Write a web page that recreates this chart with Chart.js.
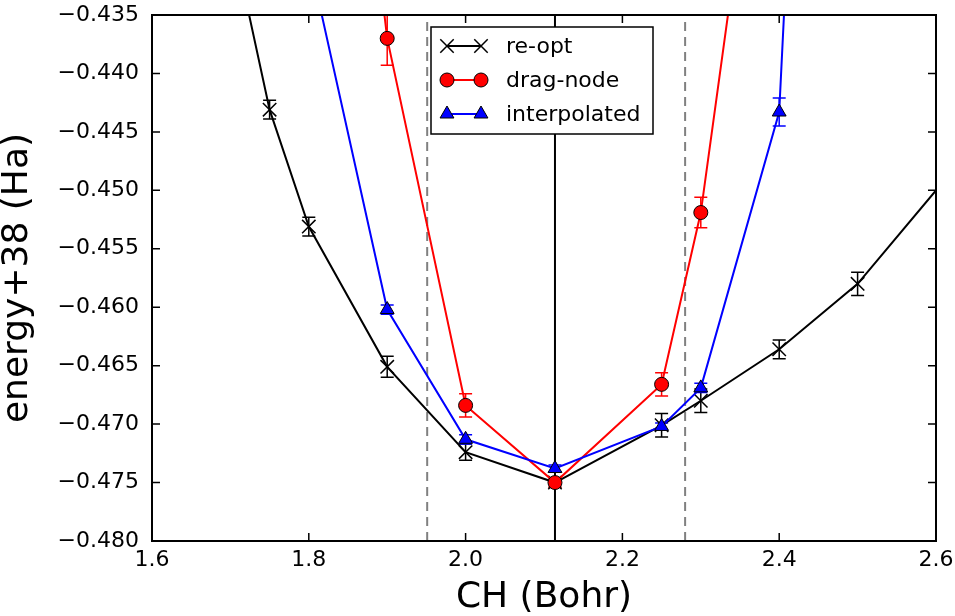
<!DOCTYPE html>
<html>
<head>
<meta charset="utf-8">
<script src="https://cdn.jsdelivr.net/npm/chart.js@4/dist/chart.umd.min.js"></script>
<style>
  html, body { margin: 0; padding: 0; background: #fff; }
  canvas { display: block; }
</style>
</head>
<body>
<canvas id="c" width="955" height="616"></canvas>
<script>
// values
const reoptX = [1.7, 1.75, 1.8, 1.9, 2.0, 2.114, 2.25, 2.3, 2.4, 2.5, 2.7];
const reoptY = [-0.4276, -0.4431, -0.4531, -0.4651, -0.4724, -0.4750, -0.4701, -0.4680, -0.4636, -0.4580, -0.4420];
const reoptErr = [0.0008, 0.0008, 0.0008, 0.0009, 0.0007, 0.0004, 0.0010, 0.0010, 0.0008, 0.0010, 0.0010];

const dragX = [1.8, 1.9, 2.0, 2.114, 2.25, 2.3, 2.4];
const dragY = [-0.3800, -0.4370, -0.4684, -0.4750, -0.4666, -0.4519, -0.4031];
const dragErr = [0.0020, 0.0023, 0.0010, 0.0004, 0.0010, 0.0013, 0.0020];

const interpX = [1.8, 1.9, 2.0, 2.114, 2.25, 2.3, 2.4, 2.5];
const interpY = [-0.4300, -0.4602, -0.4713, -0.4738, -0.4702, -0.4669, -0.4433, -0.3070];
const interpErr = [0.0004, 0.0004, 0.0004, 0.0003, 0.0003, 0.0004, 0.0012, 0.0010];

const minLineX = 2.114;
const dashLinesX = [1.951, 2.280];

const xTicks = [1.6, 1.8, 2.0, 2.2, 2.4, 2.6];
const yTicks = [-0.480, -0.475, -0.470, -0.465, -0.460, -0.455, -0.450, -0.445, -0.440, -0.435];

const FONT = 'DejaVu Sans';

const pts = (xs, ys) => xs.map((x, i) => ({ x, y: ys[i] }));

function marker(c, style, x, y, r, fill) {
    c.beginPath();
    if (style === 'circle') {
        c.arc(x, y, r, 0, Math.PI * 2);
        c.fillStyle = fill; c.fill();
        c.lineWidth = 1; c.strokeStyle = '#000'; c.stroke();
    } else if (style === 'triangle') {
        for (let k = 0; k < 3; k++) {
            const a = k * 2 * Math.PI / 3;
            const px = x + Math.sin(a) * r, py = y - Math.cos(a) * r;
            k ? c.lineTo(px, py) : c.moveTo(px, py);
        }
        c.closePath();
        c.fillStyle = fill; c.fill();
        c.lineWidth = 1; c.strokeStyle = '#000'; c.stroke();
    } else {
        const d = r * Math.SQRT1_2;
        c.moveTo(x - d, y - d); c.lineTo(x + d, y + d);
        c.moveTo(x + d, y - d); c.lineTo(x - d, y + d);
        c.lineWidth = 1.5; c.strokeStyle = '#000'; c.stroke();
    }
}

const decorations = {
    id: 'decorations',
    beforeDatasetsDraw(chart) {
        const { ctx: c, chartArea: a, scales: { x, y } } = chart;
        c.save();
        c.beginPath(); c.rect(a.left, a.top, a.width, a.height); c.clip();
        // reference lines
        c.strokeStyle = '#808080'; c.lineWidth = 2; c.setLineDash([9, 6]);
        dashLinesX.forEach(v => {
            const px = x.getPixelForValue(v);
            c.beginPath(); c.moveTo(px, a.bottom); c.lineTo(px, a.top); c.stroke();
        });
        c.setLineDash([]);
        c.strokeStyle = '#000';
        const mx = x.getPixelForValue(minLineX);
        c.beginPath(); c.moveTo(mx, a.top); c.lineTo(mx, a.bottom); c.stroke();
        // error bars
        chart.data.datasets.forEach(ds => {
            c.strokeStyle = ds.borderColor; c.lineWidth = 1.5;
            ds.data.forEach((p, i) => {
                const e = ds.errors[i];
                const px = x.getPixelForValue(p.x);
                const y1 = y.getPixelForValue(p.y - e), y2 = y.getPixelForValue(p.y + e);
                c.beginPath();
                c.moveTo(px, y1); c.lineTo(px, y2);
                c.moveTo(px - 6.5, y1); c.lineTo(px + 6.5, y1);
                c.moveTo(px - 6.5, y2); c.lineTo(px + 6.5, y2);
                c.stroke();
            });
        });
        c.restore();
    },
    afterDraw(chart) {
        const { ctx: c, chartArea: a, scales: { x, y } } = chart;
        c.save();
        c.strokeStyle = '#000'; c.lineWidth = 1.5;
        // inward ticks on all four sides
        c.beginPath();
        xTicks.forEach(v => {
            const px = x.getPixelForValue(v);
            c.moveTo(px, a.bottom); c.lineTo(px, a.bottom - 8);
            c.moveTo(px, a.top); c.lineTo(px, a.top + 8);
        });
        yTicks.forEach(v => {
            const py = y.getPixelForValue(v);
            c.moveTo(a.left, py); c.lineTo(a.left + 8, py);
            c.moveTo(a.right, py); c.lineTo(a.right - 8, py);
        });
        c.stroke();
        c.lineWidth = 2;
        c.strokeRect(a.left, a.top, a.width, a.height);

        // legend
        const lx = 431, ly = 27, lw = 222, lh = 107;
        c.fillStyle = '#fff'; c.fillRect(lx, ly, lw, lh);
        c.lineWidth = 1.5; c.strokeRect(lx, ly, lw, lh);
        c.font = '22px "' + FONT + '"';
        c.textBaseline = 'middle';
        chart.data.datasets.forEach((ds, i) => {
            const ry = 46 + i * 34;
            c.strokeStyle = ds.borderColor; c.lineWidth = 2;
            c.beginPath(); c.moveTo(447, ry); c.lineTo(481, ry); c.stroke();
            marker(c, ds.pointStyle, 447, ry, ds.pointRadius, ds.pointBackgroundColor);
            marker(c, ds.pointStyle, 481, ry, ds.pointRadius, ds.pointBackgroundColor);
            c.fillStyle = '#000';
            c.fillText(ds.label, 506, ry + 1);
        });
        c.restore();
    }
};

const fmtY = v => (v < 0 ? '\u2212' : '') + Math.abs(v).toFixed(3);

new Chart(document.getElementById('c'), {
    type: 'scatter',
    data: {
        datasets: [
            {
                label: 're-opt', data: pts(reoptX, reoptY), errors: reoptErr,
                showLine: true, borderColor: '#000', borderWidth: 2,
                pointStyle: 'crossRot', pointRadius: 9.5, pointBorderWidth: 1.5,
                pointBorderColor: '#000', pointBackgroundColor: '#000',
                clip: 0, order: 3,
            },
            {
                label: 'drag-node', data: pts(dragX, dragY), errors: dragErr,
                showLine: true, borderColor: '#ff0000', borderWidth: 2,
                pointStyle: 'circle', pointRadius: 7, pointBorderWidth: 1,
                pointBorderColor: '#000', pointBackgroundColor: '#ff0000',
                clip: 0, order: 2,
            },
            {
                label: 'interpolated', data: pts(interpX, interpY), errors: interpErr,
                showLine: true, borderColor: '#0000ff', borderWidth: 2,
                pointStyle: 'triangle', pointRadius: 8, pointBorderWidth: 1,
                pointBorderColor: '#000', pointBackgroundColor: '#0000ff',
                clip: 0, order: 1,
            },
        ]
    },
    options: {
        responsive: false,
        animation: false,
        devicePixelRatio: 1,
        layout: { padding: { left: 0, top: 15, right: 19, bottom: 0 } },
        plugins: { legend: { display: false }, tooltip: { enabled: false } },
        elements: { line: { tension: 0 } },
        scales: {
            x: {
                type: 'linear', min: 1.6, max: 2.6,
                afterBuildTicks: s => { s.ticks = xTicks.map(v => ({ value: v })); },
                afterFit: s => { s.height = 75; s.paddingLeft = 0; s.paddingRight = 0; },
                grid: { display: false, drawTicks: false },
                border: { display: false },
                ticks: {
                    padding: 6, color: '#000', maxRotation: 0, autoSkip: false,
                    font: { family: FONT, size: 22 },
                    callback: v => v.toFixed(1),
                },
                title: {
                    display: true, text: 'CH (Bohr)', color: '#000',
                    font: { family: FONT, size: 36, lineHeight: 1 },
                    padding: { top: 0, bottom: 0 },
                },
            },
            y: {
                type: 'linear', min: -0.48, max: -0.435,
                afterBuildTicks: s => { s.ticks = yTicks.map(v => ({ value: v })); },
                afterFit: s => { s.width = 152; s.paddingTop = 0; s.paddingBottom = 0; },
                grid: { display: false, drawTicks: false },
                border: { display: false },
                ticks: {
                    padding: 13, color: '#000', autoSkip: false,
                    font: { family: FONT, size: 22 },
                    callback: v => fmtY(v),
                },
                title: {
                    display: true, text: 'energy+38 (Ha)', color: '#000',
                    font: { family: FONT, size: 36, lineHeight: 1 },
                    padding: { top: 0, bottom: 0 },
                },
            },
        },
    },
    plugins: [decorations],
});
</script>
</body>
</html>
